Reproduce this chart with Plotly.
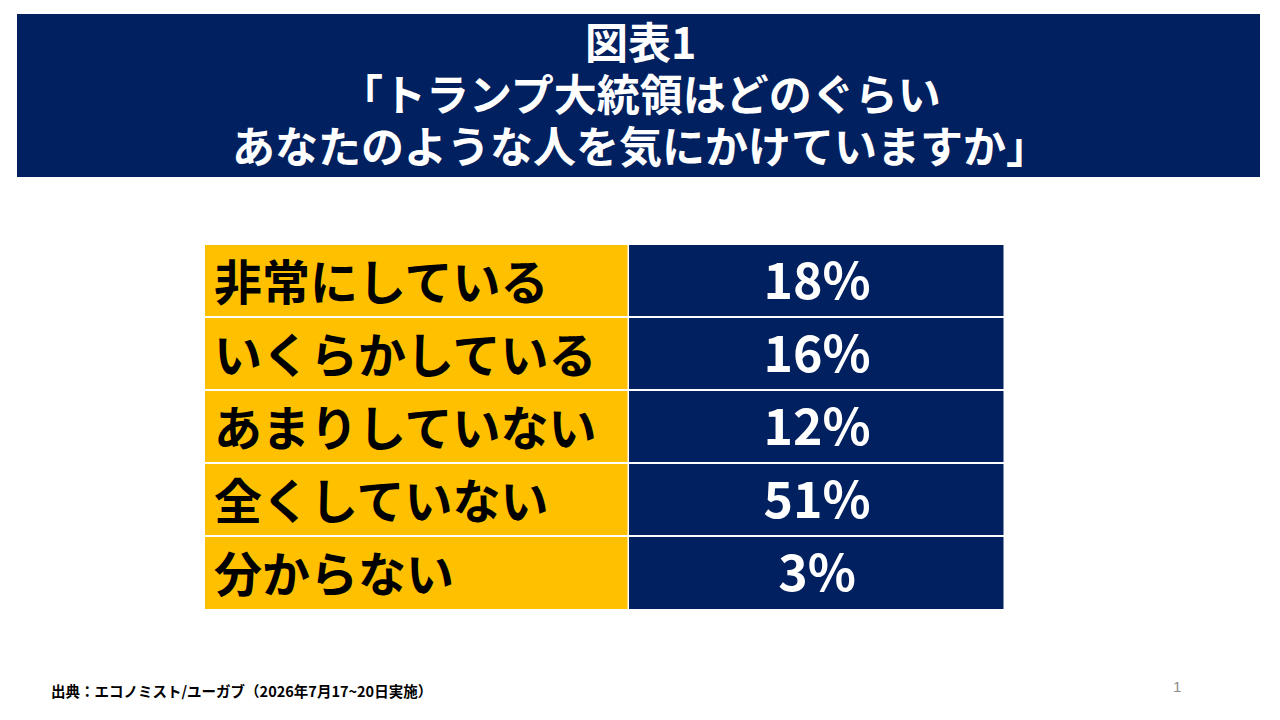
import numpy as np
import plotly.graph_objects as go

# Data
title_lines = ["図表1", "「トランプ大統領はどのぐらい", "あなたのような人を気にかけていますか」"]
answers = ["非常にしている", "いくらかしている", "あまりしていない", "全くしていない", "分からない"]
shares = [18, 16, 12, 51, 3]
source = "出典：エコノミスト/ユーガブ（2026年7月17~20日実施）"
page_no = "1"

NAVY = "#002060"
GOLD = "#FFC000"
JP = "Noto Sans CJK JP"
W, H = 1280, 720

# two columns of the table: label column, value column (pixel widths)
col_w = [424, 376]
edges = np.concatenate([[0], np.cumsum(col_w)])

fig = go.Figure()

fig.add_trace(go.Heatmap(
    x=edges,
    y=answers,
    z=[[0, 1] for _ in answers],
    text=[["", "%d%%" % s] for s in shares],
    texttemplate="%{text}",
    textfont=dict(family=JP, size=50, color="white", weight="bold"),
    colorscale=[[0, GOLD], [1, NAVY]],
    zmin=0, zmax=1, showscale=False,
    xgap=1.5, ygap=2,
    hoverinfo="skip",
))

# row labels in the gold column
for a in answers:
    fig.add_annotation(text="<b>%s</b>" % a, x=edges[0], y=a, xref="x", yref="y",
                       xanchor="left", yanchor="middle", xshift=7, yshift=2, showarrow=False,
                       font=dict(family=JP, size=48, color="black"))

fig.update_xaxes(domain=[205 / W, 1005 / W], range=[0, edges[-1]], visible=False, fixedrange=True)
fig.update_yaxes(domain=[1 - 612 / H, 1 - 244 / H], autorange="reversed",
                 showticklabels=False, ticks="",
                 showgrid=False, zeroline=False, showline=False, fixedrange=True)

# header band and title
fig.add_shape(type="rect", xref="paper", yref="paper",
              x0=17 / W, x1=1260 / W, y0=1 - 177 / H, y1=1 - 14 / H,
              fillcolor=NAVY, line=dict(width=0), layer="below")
for line, yc in zip(title_lines, [40, 92, 144]):
    fig.add_annotation(text="<b>%s</b>" % line, xref="paper", yref="paper",
                       x=0.5, y=1 - yc / H, xanchor="center", yanchor="middle",
                       showarrow=False, font=dict(family=JP, size=43, color="white"))

fig.add_annotation(text="<b>%s</b>" % source, xref="paper", yref="paper",
                   x=49 / W, y=1 - 690 / H, xanchor="left", yanchor="middle",
                   showarrow=False, font=dict(family=JP, size=14.5, color="black"))
fig.add_annotation(text=page_no, xref="paper", yref="paper",
                   x=1177 / W, y=1 - 686 / H, xanchor="center", yanchor="middle",
                   showarrow=False, font=dict(family="Liberation Sans", size=15, color="#8c8c8c"))

fig.update_layout(width=W, height=H, margin=dict(l=0, r=0, t=0, b=0),
                  paper_bgcolor="white", plot_bgcolor="white")

fig.write_html("out.html", config={"displayModeBar": False},
               post_script="document.body.style.margin='0';")
